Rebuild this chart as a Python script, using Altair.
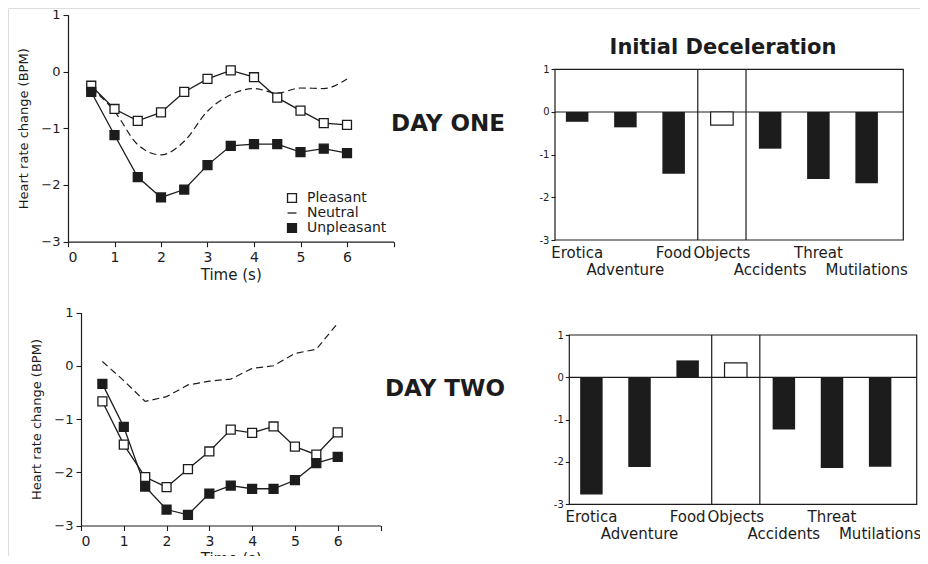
import altair as alt
import pandas as pd

# ---------------- data ----------------
t = [0.5, 1, 1.5, 2, 2.5, 3, 3.5, 4, 4.5, 5, 5.5, 6]
d1_pleasant = [-0.25, -0.66, -0.87, -0.72, -0.36, -0.13, 0.02, -0.10, -0.46, -0.69, -0.91, -0.94]
d1_neutral = [-0.29, -0.70, -1.29, -1.47, -1.23, -0.70, -0.41, -0.30, -0.38, -0.29, -0.30, -0.13]
d1_unpleasant = [-0.36, -1.12, -1.86, -2.22, -2.08, -1.65, -1.31, -1.28, -1.28, -1.42, -1.36, -1.44]
d2_pleasant = [-0.67, -1.48, -2.09, -2.28, -1.94, -1.61, -1.20, -1.26, -1.14, -1.52, -1.67, -1.25]
d2_neutral = [0.08, -0.28, -0.67, -0.58, -0.36, -0.29, -0.25, -0.05, 0.0, 0.23, 0.31, 0.80]
d2_unpleasant = [-0.34, -1.15, -2.27, -2.70, -2.80, -2.40, -2.25, -2.31, -2.31, -2.15, -1.83, -1.71]

series_names = ["Pleasant", "Neutral", "Unpleasant"]

categories = ["Erotica", "Adventure", "Food", "Objects", "Accidents", "Threat", "Mutilations"]
d1_bars = [-0.23, -0.36, -1.45, -0.31, -0.86, -1.57, -1.67]
d2_bars = [-2.77, -2.12, 0.40, 0.34, -1.23, -2.14, -2.11]
second_row_labels = ["Adventure", "Accidents", "Mutilations"]
divider_before = ["Objects", "Accidents"]

# ---------------- layout / style ----------------
W, H = 912, 548
FONT = "DejaVu Sans"
INK = "#1c1c1c"
one = pd.DataFrame({"k": [0]})

P_IN, P_OUT, ALIGN = 0.533, 0.376, 0.3


def line_panel(pl, ne, un, xr, yr, show_legend, neutral_interp):
    long = pd.DataFrame({
        "t": t + t,
        "v": pl + un,
        "series": ["Pleasant"] * len(t) + ["Unpleasant"] * len(t),
    })
    neu = pd.DataFrame({"t": t, "v": ne})
    xs = alt.Scale(domain=[0, 7], range=xr, nice=False, zero=False)
    ys = alt.Scale(domain=[-3, 1], range=yr, nice=False, zero=False)
    xaxis = alt.Axis(
        orient="bottom", offset=yr[0] - H,
        values=[i / 2 for i in range(15)], format="d",
        labelExpr="datum.value % 1 === 0 && datum.value <= 6 ? datum.label : ''",
        title="Time (s)", titleFontSize=15, titlePadding=3,
        labelFontSize=14, labelPadding=4, tickSize=5,
    )
    yaxis = alt.Axis(
        orient="left", offset=-xr[0],
        values=[-3 + i / 2 for i in range(9)], format="d",
        labelExpr="datum.value % 1 === 0 ? datum.label : ''",
        title="Heart rate change (BPM)", titleFontSize=13, titlePadding=10,
        labelFontSize=13, labelPadding=3, tickSize=5,
    )
    X = alt.X("t:Q", scale=xs, axis=xaxis)
    Y = alt.Y("v:Q", scale=ys, axis=yaxis)
    lines = alt.Chart(long).mark_line(color=INK, strokeWidth=1.3).encode(X, Y, detail="series:N")
    neutral = alt.Chart(neu).mark_line(
        color=INK, strokeWidth=1.2, strokeDash=[7, 4], interpolate=neutral_interp
    ).encode(X, Y)
    if show_legend:
        leg = alt.Legend(
            orient="none", legendX=277, legendY=183, title=None, padding=0,
            labelFont=FONT, labelFontSize=14, labelColor=INK, labelOffset=8,
            symbolSize=80, symbolStrokeWidth=1.3, symbolStrokeColor=INK,
            rowPadding=0,
        )
    else:
        leg = None
    shape = alt.Shape("series:N", scale=alt.Scale(domain=series_names, range=["square", "stroke", "square"]), legend=leg)
    fill = alt.Fill("series:N", scale=alt.Scale(domain=series_names, range=["white", INK, INK]), legend=leg)
    stroke = alt.Stroke("series:N", scale=alt.Scale(domain=series_names, range=[INK, INK, INK]), legend=leg)
    pts = alt.Chart(long).mark_point(
        filled=True, strokeWidth=1.3, size=80, opacity=1
    ).encode(X, Y, shape=shape, fill=fill, stroke=stroke)
    return alt.layer(neutral, lines, pts)


def bar_panel(vals, xr, yr):
    df = pd.DataFrame({"cat": categories, "v": vals})
    xs = alt.Scale(domain=categories, range=xr, paddingInner=P_IN, paddingOuter=P_OUT, align=ALIGN)
    ys = alt.Scale(domain=[-3, 1], range=yr, nice=False, zero=False)
    step = (xr[1] - xr[0]) / (len(categories) - P_IN + 2 * P_OUT)
    gap = step * P_IN
    row2 = "[" + ",".join("'%s'" % c for c in second_row_labels) + "]"
    ax1 = alt.Axis(
        orient="bottom", offset=yr[0] - H, domain=False, ticks=False, tickSize=0,
        labelPadding=5, labelAngle=0, labelFontSize=15, title=None,
        labelExpr="indexof(%s, datum.value) < 0 ? datum.label : ''" % row2,
    )
    ax2 = alt.Axis(
        orient="bottom", offset=yr[0] - H, domain=False, ticks=False, tickSize=0,
        labelPadding=22, labelAngle=0, labelFontSize=15, title=None,
        labelExpr="indexof(%s, datum.value) >= 0 ? datum.label : ''" % row2,
    )
    yaxis = alt.Axis(
        orient="left", offset=-xr[0], domain=False, tickSize=4,
        values=[-3 + i / 2 for i in range(9)], format="d",
        labelExpr="datum.value % 1 === 0 ? replace(datum.label, '\u2212', '-') : ''",
        labelFontSize=10, labelPadding=2, title=None,
    )
    dark = alt.Chart(df).transform_filter("datum.cat !== 'Objects'").mark_bar(color=INK).encode(
        alt.X("cat:N", scale=xs, axis=ax1, sort=categories),
        alt.Y("v:Q", scale=ys, axis=yaxis),
    )
    light = alt.Chart(df).transform_filter("datum.cat === 'Objects'").mark_bar(
        fill="white", stroke=INK, strokeWidth=1.2
    ).encode(
        alt.X("cat:N", scale=xs, axis=ax2, sort=categories),
        alt.Y("v:Q", scale=ys, axis=None),
    )
    dividers = alt.Chart(pd.DataFrame({"cat": divider_before})).mark_rule(
        color=INK, strokeWidth=1.2, xOffset=-gap / 2
    ).encode(
        alt.X("cat:N", scale=xs, axis=None, bandPosition=0),
        y=alt.YDatum(1, scale=ys, axis=None),
        y2=alt.Y2Datum(-3),
    )
    zero = alt.Chart(one).mark_rule(color=INK, strokeWidth=1.2).encode(
        x=alt.value(xr[0]), x2=alt.value(xr[1]), y=alt.YDatum(0, scale=ys, axis=None)
    )
    frame = alt.Chart(one).mark_rect(fillOpacity=0, stroke=INK, strokeWidth=1.2).encode(
        x=alt.value(xr[0]), x2=alt.value(xr[1]), y=alt.value(yr[1]), y2=alt.value(yr[0])
    )
    return alt.layer(frame, zero, dividers, dark, light).resolve_axis(x="independent", y="independent")


def label(text, x, y, size):
    return alt.Chart(one).mark_text(
        text=text, font=FONT, fontWeight="bold", fontSize=size, color=INK,
        align="center", baseline="middle",
    ).encode(x=alt.value(x), y=alt.value(y))


tl = line_panel(d1_pleasant, d1_neutral, d1_unpleasant, [60, 385.5], [233.7, 6.8], True, "monotone")
bl = line_panel(d2_pleasant, d2_neutral, d2_unpleasant, [73, 372.5], [517.5, 304.5], False, "linear")
tr = bar_panel(d1_bars, [547, 895.3], [232, 61.3])
br = bar_panel(d2_bars, [561.3, 908.7], [496.3, 327])

chart = alt.layer(
    tl, bl, tr, br,
    label("DAY ONE", 440, 116, 23),
    label("DAY TWO", 437, 381, 23),
    label("Initial Deceleration", 715, 40, 21),
).resolve_scale(
    x="independent", y="independent", shape="independent", fill="independent", stroke="independent"
).properties(
    width=W, height=H, padding=0, autosize="none"
).configure_view(stroke=None).configure(font=FONT).configure_axis(
    labelFont=FONT, titleFont=FONT, labelColor=INK, titleColor=INK,
    domainColor=INK, tickColor=INK, domainWidth=1.2, tickWidth=1.1,
    grid=False, titleFontWeight="normal",
)

chart.save("out.html", embed_options={"renderer": "svg", "actions": False})
